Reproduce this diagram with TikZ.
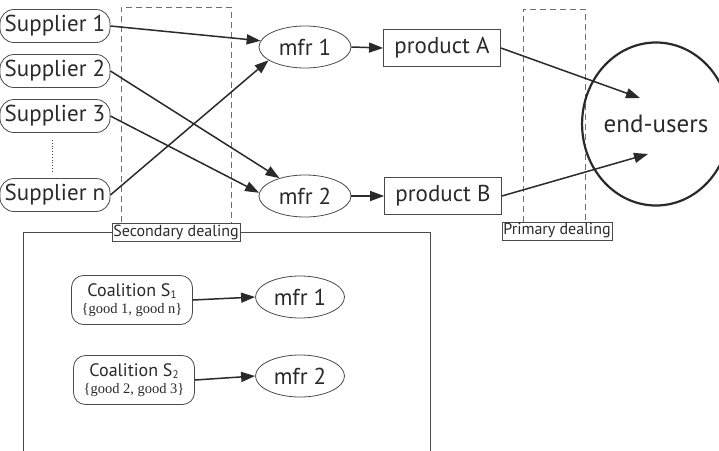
\documentclass[tikz,border=0pt]{standalone}
\usepackage{fontspec}
\setmainfont{PT Sans}
\newfontfamily\serifrm{Liberation Serif}
\usetikzlibrary{arrows.meta,shapes.geometric}
\definecolor{ink}{HTML}{2A2A2A}
\definecolor{edge}{HTML}{4A4A4A}
\newcommand{\lowsub}[1]{\raisebox{-2.5pt}{\fontsize{11}{11}\selectfont #1}}
\begin{document}
\begin{tikzpicture}[x=1pt,y=-1pt,
  sup/.style={draw=edge, rounded corners=14pt, minimum width=110pt, minimum height=33pt, inner sep=0pt, font=\fontsize{23}{23}\selectfont, line width=0.8pt, text=ink},
  mfr/.style={draw=edge, ellipse, minimum width=92pt, minimum height=42pt, inner sep=0pt, font=\fontsize{23}{23}\selectfont, line width=0.8pt, text=ink},
  prod/.style={draw=edge, rectangle, minimum width=117pt, minimum height=37pt, inner sep=0pt, font=\fontsize{23}{23}\selectfont, line width=0.8pt, text=ink},
  coal/.style={draw=edge, rounded corners=12pt, minimum width=121pt, minimum height=49pt, inner sep=0pt, align=center, line width=0.8pt, text=ink},
  arr/.style={-{Triangle[length=14pt,width=10pt]}, line width=1.5pt, draw=ink},
  dealbox/.style={draw=edge!80, dash pattern=on 6pt off 4pt, line width=0.9pt},
  lab/.style={draw=edge, fill=white, font=\fontsize{16}{16}\selectfont, inner sep=1.5pt, text=ink, line width=0.6pt}
]
\useasboundingbox (0,0) rectangle (719,450);
% dealing boxes
\draw[dealbox] (121,232) -- (121,7) -- (231,7) -- (231,232);
\draw[dealbox] (523,222) -- (523,9) -- (585,9) -- (585,222);
% outer panel
\draw[edge, line width=0.9pt] (23,452) -- (23,232) -- (430,232) -- (430,452);
% suppliers
\node[sup] (s1) at (55,26) {Supplier 1};
\node[sup] (s2) at (55,71) {Supplier 2};
\node[sup] (s3) at (55,116) {Supplier 3};
\node[sup] (sn) at (55,195) {Supplier n};
\draw[edge, dotted, line width=0.8pt] (s3.south -| 52,0) ++(0,7) coordinate (d1) -- ++(0,33) coordinate (d2);
% manufacturers
\node[mfr] (m1) at (305,47) {mfr 1};
\node[mfr] (m2) at (305,196) {mfr 2};
\node[prod] (pa) at (442,48) {product A};
\node[prod] (pb) at (443,196) {product B};
\node[draw=ink, ellipse, line width=2.2pt, minimum width=124pt, minimum height=163pt, inner sep=0pt, font=\fontsize{25}{25}\selectfont, text=ink] (eu) at (656,124) {end-users};
\coordinate (ea) at (640,98);
\coordinate (eb) at (648,154);
% arrows
\draw[arr] (s1.east) -- (m1.172);
\draw[arr] (sn.east) -- (m1.200);
\draw[arr] (s2.east) -- (m2.145);
\draw[arr] (s3.east) -- (m2.176);
\draw[arr] (m1.east) -- (pa.west);
\draw[arr] (m2.east) -- (pb.west);
\draw[arr] (pa.east) -- (ea);
\draw[arr] (pb.east) -- (eb);
% labels
\node[lab] (sd) at (176,232) {Secondary dealing};
\node[lab] (pd) at (557,231) {Primary dealing};
% bottom panel
\node[coal] (c1) at (132,300) {{\fontsize{18}{20}\selectfont Coalition S\lowsub{1}}\\[4pt]{\serifrm\fontsize{14.5}{16}\selectfont\{good 1, good n\}}};
\node[coal] (c2) at (134,380) {{\fontsize{18}{20}\selectfont Coalition S\lowsub{2}}\\[4pt]{\serifrm\fontsize{14.5}{16}\selectfont\{good 2, good 3\}}};
\node[mfr, minimum width=89pt] (bm1) at (300,297) {mfr 1};
\node[mfr, minimum width=89pt] (bm2) at (300,376) {mfr 2};
\draw[arr] (c1.east) -- (bm1.west);
\draw[arr] (c2.east) -- (bm2.west);
\end{tikzpicture}
\end{document}
